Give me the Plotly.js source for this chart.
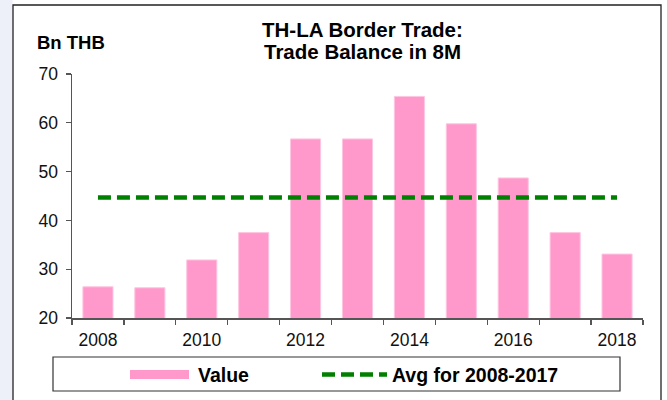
<!DOCTYPE html>
<html>
<head>
<meta charset="utf-8">
<script src="https://cdn.plot.ly/plotly-3.0.1.min.js"></script>
<style>html,body{margin:0;padding:0;background:#fff;}#chart{width:667px;height:400px;}</style>
</head>
<body>
<div id="chart"></div>
<script>
// Data
const years = [2008, 2009, 2010, 2011, 2012, 2013, 2014, 2015, 2016, 2017, 2018];
const tradeBalance = [26.4, 26.2, 31.9, 37.5, 56.7, 56.7, 65.4, 59.8, 48.7, 37.5, 33.1];
const avgValue = [44.7, 44.7, 44.7, 44.7, 44.7, 44.7, 44.7, 44.7, 44.7, 44.7, 44.7];
const xTickVals = [2008, 2010, 2012, 2014, 2016, 2018];
const xTickText = ['2008', '2010', '2012', '2014', '2016', '2018'];
const seriesNames = ['Value', 'Avg for 2008-2017'];
const titleLines = ['TH-LA Border Trade:', 'Trade Balance in 8M'];
const unitLabel = 'Bn THB';

const boundaries = years.map(y => y - 0.5).concat([years[years.length - 1] + 0.5]);

const L = 72, R = 24, T = 74, B = 82, W = 667, H = 400;
const pw = W - L - R, ph = H - T - B;
const px = x => (x - L) / pw;
const py = y => (H - B - y) / ph;

const FONT = 'Liberation Sans, Arial, sans-serif';

const traces = [
  {
    type: 'bar', x: years, y: tradeBalance, name: seriesNames[0],
    width: 0.58,
    marker: {color: '#FF99CC', line: {color: '#FFC6E2', width: 1}},
    hoverinfo: 'x+y'
  },
  {
    type: 'scatter', mode: 'lines', x: years, y: avgValue, name: seriesNames[1],
    line: {color: '#008000', width: 4.5, dash: '13px,6px'}
  }
];

const shapes = [
  {type: 'rect', xref: 'paper', yref: 'paper', x0: px(0), x1: px(12.5), y0: py(0), y1: py(400),
   fillcolor: '#EEF0F9', line: {width: 0}, layer: 'below'},
  {type: 'rect', xref: 'paper', yref: 'paper', x0: px(13), x1: px(661), y0: py(5), y1: py(404),
   fillcolor: 'rgba(0,0,0,0)', line: {color: '#222', width: 1.3}},
  {type: 'rect', xref: 'paper', yref: 'paper', x0: px(53), x1: px(620), y0: py(357), y1: py(391),
   fillcolor: 'rgba(0,0,0,0)', line: {color: '#333', width: 1.2}},
  {type: 'rect', xref: 'paper', yref: 'paper', x0: px(130), x1: px(189), y0: py(370), y1: py(379),
   fillcolor: '#FF99CC', line: {width: 0}},
  {type: 'line', xref: 'paper', yref: 'paper', x0: px(322), x1: px(387), y0: py(374.5), y1: py(374.5),
   line: {color: '#008000', width: 4.5, dash: '13px,6px'}}
];

const annotations = [
  {xref: 'paper', yref: 'paper', x: px(362), y: py(29), xanchor: 'center', yanchor: 'middle', showarrow: false,
   text: '<b>' + titleLines[0] + '</b>', font: {family: FONT, size: 20.5, color: '#000'}},
  {xref: 'paper', yref: 'paper', x: px(362), y: py(51.5), xanchor: 'center', yanchor: 'middle', showarrow: false,
   text: '<b>' + titleLines[1] + '</b>', font: {family: FONT, size: 20.5, color: '#000'}},
  {xref: 'paper', yref: 'paper', x: px(35), y: py(42), xanchor: 'left', yanchor: 'middle', showarrow: false,
   text: '<b>' + unitLabel + '</b>', font: {family: FONT, size: 18.5, color: '#000'}},
  {xref: 'paper', yref: 'paper', x: px(196), y: py(375), xanchor: 'left', yanchor: 'middle', showarrow: false,
   text: '<b>' + seriesNames[0] + '</b>', font: {family: FONT, size: 19.5, color: '#000'}},
  {xref: 'paper', yref: 'paper', x: px(390), y: py(375), xanchor: 'left', yanchor: 'middle', showarrow: false,
   text: '<b>' + seriesNames[1] + '</b>', font: {family: FONT, size: 19.5, color: '#000'}}
];

const layout = {
  width: W, height: H,
  margin: {l: L, r: R, t: T, b: B, pad: 0},
  paper_bgcolor: '#fff', plot_bgcolor: '#fff',
  showlegend: false,
  font: {family: FONT, size: 17.5, color: '#000'},
  xaxis: {
    type: 'linear', range: [boundaries[0], boundaries[boundaries.length - 1]],
    tickmode: 'array', tickvals: xTickVals, ticktext: xTickText,
    ticks: 'outside', ticklen: 5, tickcolor: 'rgba(0,0,0,0)',
    minor: {tickmode: 'array', tickvals: boundaries, ticks: 'outside', ticklen: 5, tickcolor: '#555', tickwidth: 1.3, showgrid: false},
    showline: true, linecolor: '#555', linewidth: 1.5,
    showgrid: false, zeroline: false, fixedrange: true,
    tickfont: {family: FONT, size: 17.5, color: '#111'}
  },
  yaxis: {
    range: [20, 70], tickmode: 'linear', tick0: 20, dtick: 10,
    ticks: 'outside', ticklen: 5, tickcolor: '#555', tickwidth: 1.3,
    showline: true, linecolor: '#555', linewidth: 1.5,
    showgrid: false, zeroline: false, fixedrange: true,
    ticklabelstandoff: 4,
    tickfont: {family: FONT, size: 17.5, color: '#111'}
  },
  shapes: shapes,
  annotations: annotations
};

Plotly.newPlot('chart', traces, layout, {displayModeBar: false, staticPlot: true});
</script>
</body>
</html>
